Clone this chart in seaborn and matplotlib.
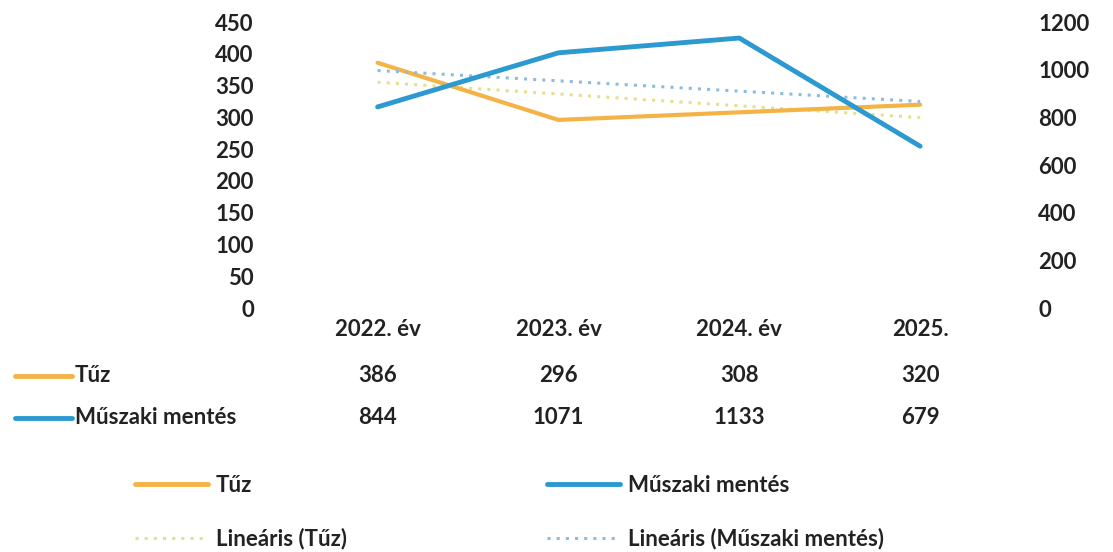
import matplotlib
matplotlib.use("Agg")
import matplotlib.pyplot as plt
import matplotlib.transforms as mtransforms
from matplotlib.lines import Line2D
import seaborn as sns
import numpy as np
import pandas as pd

categories = ["2022. év", "2023. év", "2024. év", "2025."]
tuz = [386, 296, 308, 320]
muszaki = [844, 1071, 1133, 679]
left_ticks = [0, 50, 100, 150, 200, 250, 300, 350, 400, 450]
right_ticks = [0, 200, 400, 600, 800, 1000, 1200]

sns.set_theme(style="white")
plt.rcParams['font.family'] = ['Lato', 'DejaVu Sans']

c_tuz = "#F4B347"
c_musz = "#2C9AD0"
c_tuz_tr = "#E6E08E"
c_musz_tr = "#8FBCDD"
txt = "#222222"

df = pd.DataFrame({"x": np.arange(len(categories)), "tuz": tuz, "muszaki": muszaki})

fig = plt.figure(figsize=(11.13, 5.52), dpi=100)
ax = fig.add_axes([0.258, 0.442, 0.65, 0.518])
ax2 = ax.twinx()

# trend lines
sns.regplot(data=df, x="x", y="tuz", ax=ax, scatter=False, ci=None, truncate=True,
            line_kws=dict(color=c_tuz_tr, lw=2.2, ls=(0, (1, 2))))
sns.regplot(data=df, x="x", y="muszaki", ax=ax2, scatter=False, ci=None, truncate=True,
            line_kws=dict(color=c_musz_tr, lw=2.2, ls=(0, (1, 2))))
# main lines
sns.lineplot(data=df, x="x", y="tuz", ax=ax, color=c_tuz, lw=3)
sns.lineplot(data=df, x="x", y="muszaki", ax=ax2, color=c_musz, lw=3.5)

for a in (ax, ax2):
    for s in a.spines.values():
        s.set_visible(False)
    a.set_xlabel("")
    a.set_ylabel("")
    a.grid(False)
    a.set_xlim(-0.5, 3.5)

fs = 16
ax.set_ylim(0, 450)
ax.set_yticks(left_ticks)
ax.set_yticklabels([str(t) for t in left_ticks], fontsize=fs, fontweight="bold", color=txt)
ax.tick_params(axis="y", length=0, pad=24)
ax2.set_ylim(0, 1200)
ax2.set_yticks(right_ticks)
ax2.set_yticklabels([str(t) for t in right_ticks], fontsize=fs, fontweight="bold", color=txt)
ax2.tick_params(axis="y", length=0, pad=20)
ax.set_xticks(range(len(categories)))
ax.set_xticklabels(categories, fontsize=fs, fontweight="bold", color=txt)
ax.tick_params(axis="x", length=0, pad=8)

# data table
trans = mtransforms.blended_transform_factory(ax.transData, fig.transFigure)
row_y = [1 - 376 / 552, 1 - 418 / 552]
for i in range(len(categories)):
    fig.text(i, row_y[0], str(tuz[i]), transform=trans, ha="center", va="center",
             fontsize=fs, fontweight="bold", color=txt)
    fig.text(i, row_y[1], str(muszaki[i]), transform=trans, ha="center", va="center",
             fontsize=fs, fontweight="bold", color=txt)
fig.add_artist(Line2D([15 / 1113, 72 / 1113], [row_y[0]] * 2, color=c_tuz, lw=3.5, transform=fig.transFigure))
fig.add_artist(Line2D([15 / 1113, 72 / 1113], [row_y[1]] * 2, color=c_musz, lw=3.5, transform=fig.transFigure))
fig.text(75 / 1113, row_y[0], "Tűz", ha="left", va="center", fontsize=fs, fontweight="bold", color=txt)
fig.text(75 / 1113, row_y[1], "Műszaki mentés", ha="left", va="center", fontsize=fs, fontweight="bold", color=txt)

# legend
handles = [
    Line2D([], [], color=c_tuz, lw=3.5),
    Line2D([], [], color=c_tuz_tr, lw=2.2, ls=(0, (1, 2))),
    Line2D([], [], color=c_musz, lw=3.5),
    Line2D([], [], color=c_musz_tr, lw=2.2, ls=(0, (1, 2))),
]
labels = ["Tűz", "Lineáris (Tűz)", "Műszaki mentés", "Lineáris (Műszaki mentés)"]
leg = fig.legend(handles, labels, ncol=2, loc="center left", bbox_to_anchor=(115 / 1113, 1 - 512 / 552),
                 frameon=False, handlelength=3.3, handletextpad=0.35, columnspacing=9.0,
                 labelspacing=1.45, prop=dict(size=fs, weight="bold"))
for t in leg.get_texts():
    t.set_color(txt)

fig.savefig("out.png", dpi=100, facecolor="white")
